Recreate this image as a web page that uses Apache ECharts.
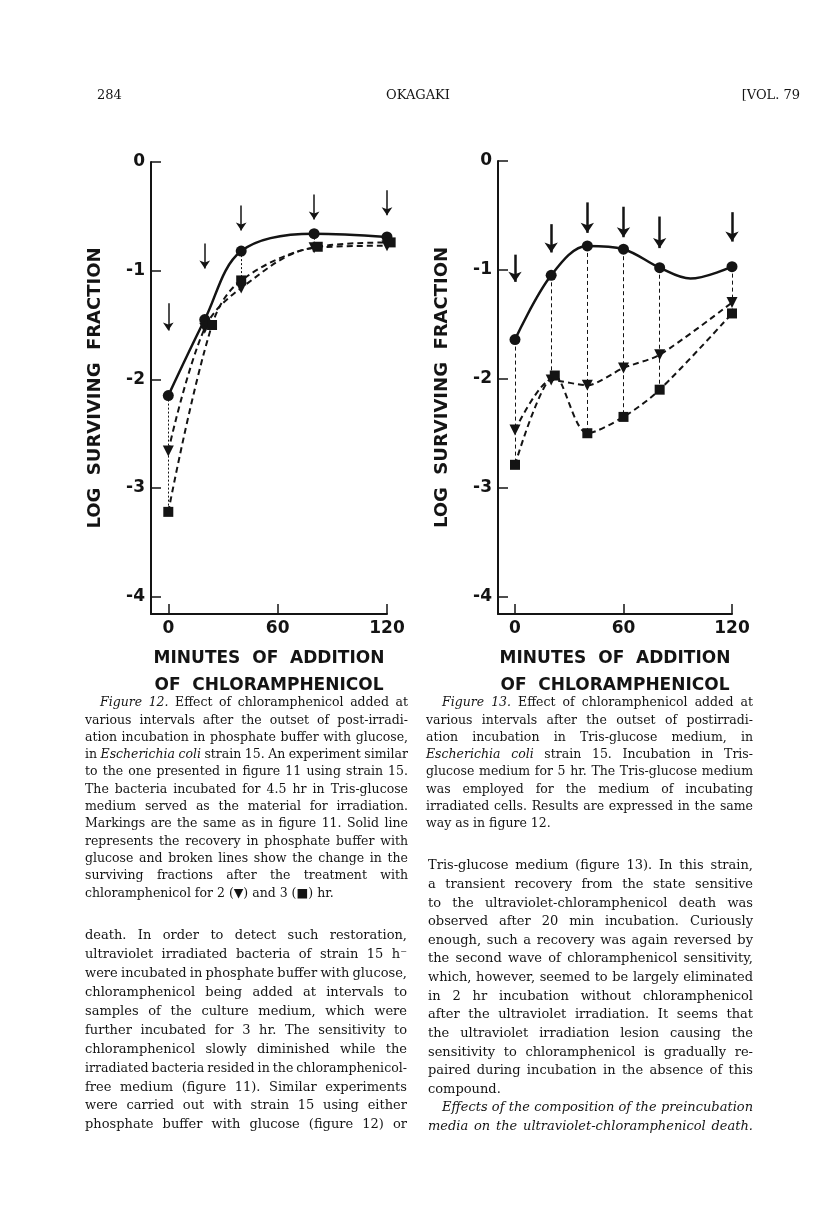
<!DOCTYPE html>
<html>
<head>
<meta charset="utf-8">
<script src="https://cdn.jsdelivr.net/npm/echarts@6/dist/echarts.min.js"></script>
<style>
    html, body { margin: 0; padding: 0; background: #fff; }
    #page { width: 816px; height: 1219px; }
</style>
</head>
<body>
<div id="page"></div>
<script>
// figure 12 - phosphate buffer with glucose
const fig12Minutes = [0, 20, 40, 80, 120];
const fig12Control = [-2.15, -1.45, -0.82, -0.66, -0.69];
const fig12Cam2h = [-2.66, -1.53, -1.16, -0.79, -0.77];
const fig12Cam3hMinutes = [0, 24, 40, 82, 122];
const fig12Cam3h = [-3.22, -1.50, -1.09, -0.78, -0.74];
const fig12ArrowFrom = [-1.30, -0.75, -0.40, -0.30, -0.26];
const fig12ArrowTo = [-1.55, -0.98, -0.63, -0.53, -0.49];

// figure 13 - Tris-glucose medium
const fig13Minutes = [0, 20, 40, 60, 80, 120];
const fig13Control = [-1.64, -1.05, -0.78, -0.81, -0.98, -0.97];
const fig13ControlTrough = [97, -1.08]; // low point of the solid curve between 80 and 120
const fig13Cam2h = [-2.47, -2.01, -2.06, -1.90, -1.78, -1.30];
const fig13Cam3hMinutes = [0, 22, 40, 60, 80, 120];
const fig13Cam3h = [-2.79, -1.97, -2.50, -2.35, -2.10, -1.40];
const fig13ArrowFrom = [-0.86, -0.58, -0.38, -0.42, -0.51, -0.47];
const fig13ArrowTo = [-1.11, -0.84, -0.66, -0.70, -0.80, -0.74];

const yTicks = [0, -1, -2, -3, -4];
const xTicks = [0, 60, 120];

const fig12CaptionLines = [
    '>*Figure *12. Effect of chloramphenicol added at',
    'various intervals after the outset of post-irradi-',
    'ation incubation in phosphate buffer with glucose,',
    'in *Escherichia *coli strain 15. An experiment similar',
    'to the one presented in figure 11 using strain 15.',
    'The bacteria incubated for 4.5 hr in Tris-glucose',
    'medium served as the material for irradiation.',
    'Markings are the same as in figure 11. Solid line',
    'represents the recovery in phosphate buffer with',
    'glucose and broken lines show the change in the',
    'surviving fractions after the treatment with',
    'chloramphenicol for 2 (▼) and 3 (■) hr.|'
];
const fig13CaptionLines = [
    '>*Figure *13. Effect of chloramphenicol added at',
    'various intervals after the outset of postirradi-',
    'ation incubation in Tris-glucose medium, in',
    '*Escherichia *coli strain 15. Incubation in Tris-',
    'glucose medium for 5 hr. The Tris-glucose medium',
    'was employed for the medium of incubating',
    'irradiated cells. Results are expressed in the same',
    'way as in figure 12.|'
];
const leftBodyLines = [
    'death. In order to detect such restoration,',
    'ultraviolet irradiated bacteria of strain 15 h⁻',
    'were incubated in phosphate buffer with glucose,',
    'chloramphenicol being added at intervals to',
    'samples of the culture medium, which were',
    'further incubated for 3 hr. The sensitivity to',
    'chloramphenicol slowly diminished while the',
    'irradiated bacteria resided in the chloramphenicol-',
    'free medium (figure 11). Similar experiments',
    'were carried out with strain 15 using either',
    'phosphate buffer with glucose (figure 12) or'
];
const rightBodyLines = [
    'Tris-glucose medium (figure 13). In this strain,',
    'a transient recovery from the state sensitive',
    'to the ultraviolet-chloramphenicol death was',
    'observed after 20 min incubation. Curiously',
    'enough, such a recovery was again reversed by',
    'the second wave of chloramphenicol sensitivity,',
    'which, however, seemed to be largely eliminated',
    'in 2 hr incubation without chloramphenicol',
    'after the ultraviolet irradiation. It seems that',
    'the ultraviolet irradiation lesion causing the',
    'sensitivity to chloramphenicol is gradually re-',
    'paired during incubation in the absence of this',
    'compound.|',
    '>*Effects *of *the *composition *of *the *preincubation',
    '*media *on *the *ultraviolet-chloramphenicol *death.'
];

const INK = '#141414';
const SANS = '"DejaVu Sans", sans-serif';
const SERIF = '"DejaVu Serif", serif';

// 两端对齐的文字块，每个单词单独放
const measure = document.createElement('canvas').getContext('2d');
function serifFont(size, italic) {
    return (italic ? 'italic ' : '') + size + 'px ' + SERIF;
}
function textBlock(lines, left, right, top, lineHeight, size, indent) {
    const els = [];
    lines.forEach((raw, i) => {
        let line = raw;
        let x0 = left;
        let justify = true;
        if (line.startsWith('>')) {
            line = line.slice(1);
            x0 = left + indent;
        }
        if (line.endsWith('|')) {
            line = line.slice(0, -1);
            justify = false;
        }
        const words = line.split(' ').map((w) => {
            const italic = w.startsWith('*');
            const t = italic ? w.slice(1) : w;
            measure.font = serifFont(size, italic);
            return { t: t, italic: italic, w: measure.measureText(t).width };
        });
        measure.font = serifFont(size, false);
        const space = measure.measureText(' ').width;
        const sum = words.reduce((a, b) => a + b.w, 0);
        const avail = right - x0;
        let gap = space;
        if (justify && words.length > 1) {
            gap = Math.max((avail - sum) / (words.length - 1), space * 0.75);
        }
        const total = sum + gap * (words.length - 1);
        const scale = total > avail ? avail / total : 1;
        let cursor = 0;
        const y = top + i * lineHeight;
        words.forEach((wd) => {
            els.push({
                type: 'text',
                x: x0 + cursor * scale,
                y: y,
                scaleX: scale,
                silent: true,
                style: {
                    text: wd.t,
                    font: serifFont(size, wd.italic),
                    fill: INK,
                    align: 'left',
                    verticalAlign: 'middle',
                    textAlign: 'left',
                    textVerticalAlign: 'middle'
                }
            });
            cursor += wd.w + gap;
        });
    });
    return els;
}

function pairs(xs, ys) {
    return xs.map((x, i) => [x, ys[i]]);
}
function arrowLines(xs, from, to) {
    return xs.map((x, i) => [{ coord: [x, from[i]] }, { coord: [x, to[i]] }]);
}
function dropLines(xs, top, a, b) {
    return xs.map((x, i) => [{ coord: [x, top[i]] }, { coord: [x, Math.min(a[i], b[i])] }]);
}

function makeXAxis(gridIndex, min) {
    return {
        type: 'value',
        gridIndex: gridIndex,
        min: min,
        max: 120,
        axisLine: { onZero: false, lineStyle: { color: INK, width: 2 } },
        axisTick: { inside: true, length: 10, customValues: xTicks, lineStyle: { color: INK, width: 1.5 } },
        axisLabel: { customValues: xTicks, margin: 6, color: INK, fontSize: 17, fontWeight: 'bold', fontFamily: SANS },
        splitLine: { show: false },
        name: 'MINUTES  OF  ADDITION\nOF  CHLORAMPHENICOL',
        nameLocation: 'middle',
        nameGap: 31,
        nameTextStyle: { color: INK, fontSize: 17, fontWeight: 'bold', fontFamily: SANS, lineHeight: 27 }
    };
}
function makeYAxis(gridIndex) {
    return {
        type: 'value',
        gridIndex: gridIndex,
        min: -4.16,
        max: 0,
        axisLine: { onZero: false, lineStyle: { color: INK, width: 2 } },
        axisTick: { inside: true, length: 10, customValues: yTicks, lineStyle: { color: INK, width: 1.5 } },
        axisLabel: { customValues: yTicks, margin: 6, color: INK, fontSize: 17, fontWeight: 'bold', fontFamily: SANS },
        splitLine: { show: false },
        name: 'LOG  SURVIVING  FRACTION',
        nameLocation: 'middle',
        nameRotate: 90,
        nameGap: 47,
        nameTextStyle: { color: INK, fontSize: 18, fontWeight: 'bold', fontFamily: SANS }
    };
}

const markerStyle = { color: INK };
function curve(name, gridIndex, data, symbol, dashed, extra) {
    return Object.assign({
        name: name,
        type: 'line',
        xAxisIndex: gridIndex,
        yAxisIndex: gridIndex,
        data: data,
        smooth: 0.35,
        clip: false,
        symbol: symbol,
        symbolSize: symbol === 'rect' ? 10 : 11,
        symbolRotate: symbol === 'triangle' ? 180 : 0,
        itemStyle: markerStyle,
        lineStyle: dashed ? { color: INK, width: 2, type: [6, 4] } : { color: INK, width: 2.5 },
        z: 3
    }, extra || {});
}

// solid curve of fig 13 passes a trough between 80 and 120 min
const fig13ControlData = pairs(fig13Minutes, fig13Control);
fig13ControlData.splice(5, 0, { value: fig13ControlTrough, symbol: 'none' });

const chart = echarts.init(document.getElementById('page'));
chart.setOption({
    backgroundColor: '#fff',
    animation: false,
    grid: [
        { left: 151, right: 429, top: 162, bottom: 605 },
        { left: 498, right: 84, top: 161, bottom: 605 }
    ],
    xAxis: [makeXAxis(0, -9.49), makeXAxis(1, -9.40)],
    yAxis: [makeYAxis(0), makeYAxis(1)],
    series: [
        curve('Fig 12 control', 0, pairs(fig12Minutes, fig12Control), 'circle', false, {
            markLine: {
                silent: true, symbol: ['none', 'none'], label: { show: false },
                lineStyle: { color: INK, width: 1, type: [2, 2] },
                data: dropLines(fig12Minutes, fig12Control, fig12Cam2h, fig12Cam3h)
            }
        }),
        curve('Fig 12 CM 2 hr', 0, pairs(fig12Minutes, fig12Cam2h), 'triangle', true, {
            markLine: {
                silent: true, symbol: ['none', 'arrow'], symbolSize: 8, label: { show: false },
                lineStyle: { color: INK, width: 1.5, type: 'solid' },
                data: arrowLines(fig12Minutes, fig12ArrowFrom, fig12ArrowTo)
            }
        }),
        curve('Fig 12 CM 3 hr', 0, pairs(fig12Cam3hMinutes, fig12Cam3h), 'rect', true),

        curve('Fig 13 control', 1, fig13ControlData, 'circle', false, {
            markLine: {
                silent: true, symbol: ['none', 'none'], label: { show: false },
                lineStyle: { color: INK, width: 1, type: [4, 3] },
                data: dropLines(fig13Minutes, fig13Control, fig13Cam2h, fig13Cam3h)
            }
        }),
        curve('Fig 13 CM 2 hr', 1, pairs(fig13Minutes, fig13Cam2h), 'triangle', true, {
            smooth: 0.25,
            markLine: {
                silent: true, symbol: ['none', 'arrow'], symbolSize: 10, label: { show: false },
                lineStyle: { color: INK, width: 2.5, type: 'solid' },
                data: arrowLines(fig13Minutes, fig13ArrowFrom, fig13ArrowTo)
            }
        }),
        curve('Fig 13 CM 3 hr', 1, pairs(fig13Cam3hMinutes, fig13Cam3h), 'rect', true, { smooth: 0.3 })
    ],
    graphic: {
        elements: [
            { type: 'text', x: 97, y: 96, silent: true,
              style: { text: '284', font: '13px ' + SERIF, fill: INK, align: 'left', verticalAlign: 'middle', textAlign: 'left', textVerticalAlign: 'middle' } },
            { type: 'text', x: 418, y: 96, silent: true,
              style: { text: 'OKAGAKI', font: '13px ' + SERIF, fill: INK, align: 'center', verticalAlign: 'middle', textAlign: 'center', textVerticalAlign: 'middle' } },
            { type: 'text', x: 800, y: 96, silent: true,
              style: { text: '[VOL. 79', font: '13px ' + SERIF, fill: INK, align: 'right', verticalAlign: 'middle', textAlign: 'right', textVerticalAlign: 'middle' } }
        ]
        .concat(textBlock(fig12CaptionLines, 85, 408, 703, 17.3, 12.5, 15))
        .concat(textBlock(fig13CaptionLines, 426, 753, 703, 17.3, 12.5, 16))
        .concat(textBlock(leftBodyLines, 85, 407, 936, 18.9, 13, 14))
        .concat(textBlock(rightBodyLines, 428, 753, 866, 18.62, 13, 14))
    }
});
</script>
</body>
</html>
